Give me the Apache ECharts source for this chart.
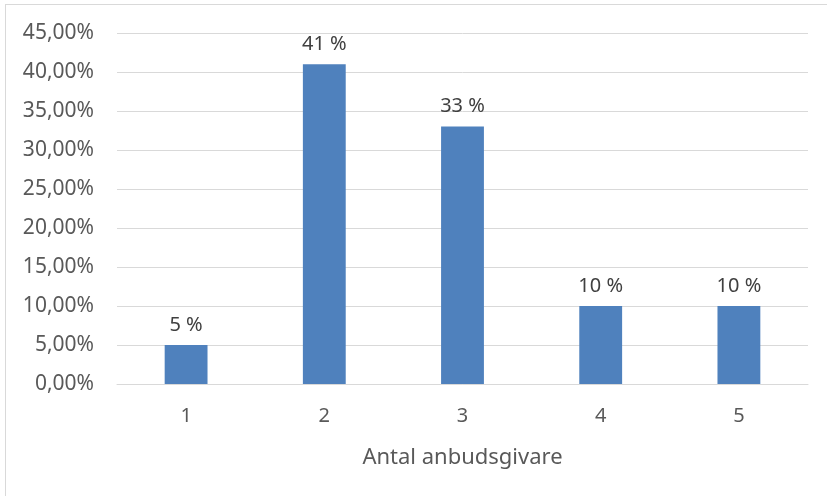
<!DOCTYPE html>
<html>
<head>
<meta charset="utf-8">
<script src="https://cdn.jsdelivr.net/npm/echarts@6/dist/echarts.min.js"></script>
<style>
  html, body { margin: 0; padding: 0; background: #fff; }
  #frame {
    position: absolute; left: 5px; top: 4px; width: 830px; height: 500px;
    border-left: 1px solid #d9d9d9; border-top: 1px solid #d9d9d9;
  }
  #chart { position: absolute; left: 0; top: 0; width: 827px; height: 496px; }
</style>
</head>
<body>
<div id="frame"></div>
<div id="chart"></div>
<script>
// kategorier och andelar (procent)
const categories = ['1', '2', '3', '4', '5']
const shares = [5, 41, 33, 10, 10]
const axisName = 'Antal anbudsgivare'

const font = '"Noto Sans", sans-serif'
const chart = echarts.init(document.getElementById('chart'))

chart.setOption({
  animation: false,
  grid: { left: 117, right: 19, top: 33, bottom: 112 },
  xAxis: {
    type: 'category',
    data: categories,
    name: axisName,
    nameLocation: 'middle',
    nameGap: 63,
    nameTextStyle: { color: '#595959', fontSize: 22, fontFamily: font },
    axisLine: { lineStyle: { color: '#d9d9d9' } },
    axisTick: { show: false },
    axisLabel: { color: '#595959', fontSize: 20, fontFamily: font, margin: 22 }
  },
  yAxis: {
    type: 'value',
    min: 0,
    max: 45,
    interval: 5,
    axisLine: { show: false },
    axisTick: { show: false },
    splitLine: { lineStyle: { color: '#d9d9d9', width: 1 } },
    axisLabel: {
      color: '#595959',
      fontSize: 21,
      fontFamily: font,
      margin: 23,
      formatter: v => v.toFixed(2).replace('.', ',') + '%'
    }
  },
  series: [{
    type: 'bar',
    data: shares,
    barWidth: '31%',
    itemStyle: { color: '#4f81bd' },
    label: {
      show: true,
      position: 'top',
      distance: 10,
      color: '#404040',
      fontSize: 20,
      fontFamily: font,
      formatter: p => p.value + ' %'
    }
  }]
})
</script>
</body>
</html>
